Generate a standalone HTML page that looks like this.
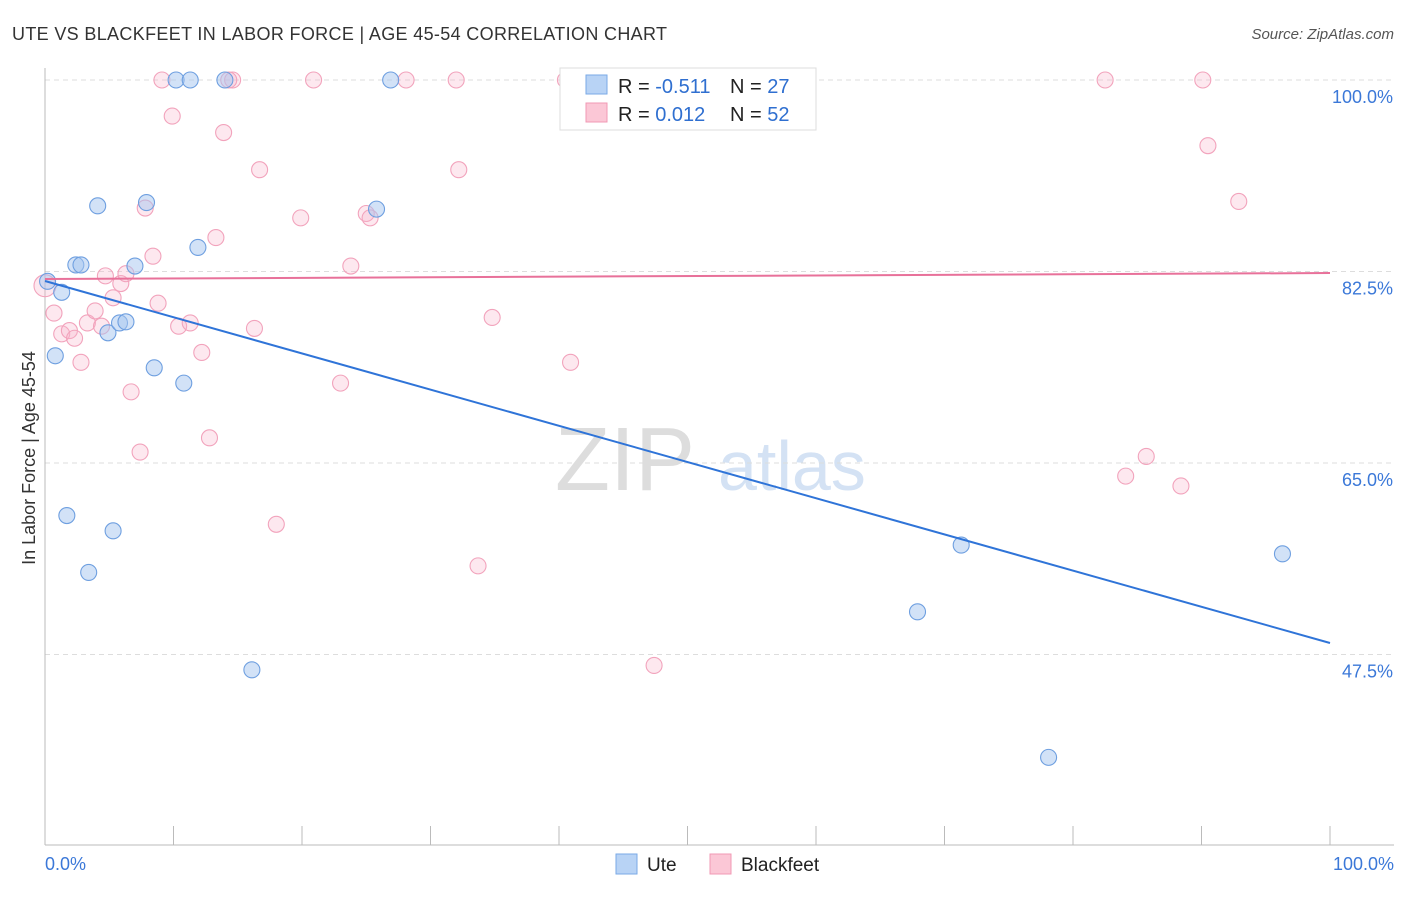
<!DOCTYPE html>
<html><head><meta charset="utf-8"><style>
body{margin:0;background:#fff;font-family:"Liberation Sans",sans-serif;}
svg text{font-family:"Liberation Sans",sans-serif;}
</style></head><body>
<svg id="chart" width="1406" height="892">
<text x="12" y="40" font-size="18" fill="#333" textLength="655">UTE VS BLACKFEET IN LABOR FORCE | AGE 45-54 CORRELATION CHART</text>
<text x="1394" y="39" font-size="15" fill="#555" text-anchor="end" font-style="italic">Source: ZipAtlas.com</text>
<text x="35" y="458" font-size="18" fill="#333" text-anchor="middle" transform="rotate(-90 35 458)">In Labor Force | Age 45-54</text>
<text x="555" y="490" font-size="90" fill="#ddd" font-family="Liberation Serif">ZIP</text>
<text x="718" y="490" font-size="70" fill="#d4e2f4">atlas</text>
<g id="grid"></g><g id="pts"></g><g id="lines"></g>
<g>
<rect x="560" y="68" width="256" height="62" fill="#fff" stroke="#ddd"/>
<rect x="586" y="75" width="21" height="19" fill="#b8d3f5" stroke="#7aaae6"/>
<rect x="586" y="103" width="21" height="19" fill="#fbc7d6" stroke="#f099b4"/>
<text x="618" y="93" font-size="20" fill="#222">R = <tspan fill="#2f6fd0">-0.511</tspan></text>
<text x="730" y="93" font-size="20" fill="#222">N = <tspan fill="#2f6fd0">27</tspan></text>
<text x="618" y="121" font-size="20" fill="#222">R = <tspan fill="#2f6fd0"> 0.012</tspan></text>
<text x="730" y="121" font-size="20" fill="#222">N = <tspan fill="#2f6fd0">52</tspan></text>
</g>
<g>
<rect x="616" y="854" width="21" height="20" fill="#b8d3f5" stroke="#7aaae6"/>
<text x="647" y="871" font-size="19" fill="#222">Ute</text>
<rect x="710" y="854" width="21" height="20" fill="#fbc7d6" stroke="#f099b4"/>
<text x="741" y="871" font-size="19" fill="#222">Blackfeet</text>
</g>
</svg>
<script>
const yTicks=[100,82.5,65,47.5];
const yTickLabels=["100.0%","82.5%","65.0%","47.5%"];
const uteX=[0.2,1.3,0.8,2.4,2.8,4.1,7.9,7.0,4.9,5.8,6.3,8.5,10.8,10.2,11.3,11.9,14.0,25.8,26.9,1.7,5.3,3.4,16.1,71.3,67.9,78.1,96.3];
const uteY=[81.6,80.6,74.8,83.1,83.1,88.5,88.8,83.0,76.9,77.8,77.9,73.7,72.3,100,100,84.7,100,88.2,100,60.2,58.8,55.0,46.1,57.5,51.4,38.1,56.7];
const bfX=[0,0.7,1.3,1.9,2.3,2.8,3.3,3.9,4.4,4.7,5.3,5.9,6.3,6.7,7.4,7.8,8.4,8.8,9.1,9.9,10.4,11.3,12.2,12.8,13.3,13.9,14.6,16.3,16.7,18.0,19.9,20.9,23.0,23.8,25.0,25.3,28.1,32.0,32.2,33.7,34.8,40.5,40.9,47.4,82.5,84.1,85.7,88.4,90.1,90.5,92.9,14.3];
const bfY=[81.2,78.7,76.8,77.1,76.4,74.2,77.8,78.9,77.5,82.1,80.1,81.4,82.3,71.5,66.0,88.3,83.9,79.6,100,96.7,77.5,77.8,75.1,67.3,85.6,95.2,100,77.3,91.8,59.4,87.4,100,72.3,83.0,87.8,87.4,100,100,91.8,55.6,78.3,100,74.2,46.5,100,63.8,65.6,62.9,100,94.0,88.9,100];
const trendXs=[0,100];
const uteTrend=[81.63,48.55];
const bfTrend=[81.81,82.36];
const X=v=>45+v*12.85, Y=v=>80+(100-v)*10.943;
const ns="http://www.w3.org/2000/svg";
function mk(t,a,p){const e=document.createElementNS(ns,t);for(const k in a)e.setAttribute(k,a[k]);p.appendChild(e);return e;}
const g=document.getElementById('grid');
yTicks.forEach((t,i)=>{
 const l=mk('line',{x1:45,x2:1394,y1:Y(t),y2:Y(t),stroke:'#ddd','stroke-dasharray':'5,4'},g);
 
 
 const tx=mk('text',{x:1393,y:Y(t)+23,'text-anchor':'end','font-size':18,fill:'#3b78d8'},g);tx.textContent=yTickLabels[i];
 
 
});
mk('line',{x1:45,x2:45,y1:68,y2:845,stroke:'#bbb'},g);
mk('line',{x1:45,x2:1394,y1:845,y2:845,stroke:'#bbb'},g);
for(let i=0;i<=10;i++){mk('line',{x1:X(i*10),x2:X(i*10),y1:826,y2:845,stroke:'#bbb'},g);}
let t1=mk('text',{x:45,y:870,'font-size':18,fill:'#3b78d8'},g);t1.textContent='0.0%';


let t2=mk('text',{x:1394,y:870,'font-size':18,fill:'#3b78d8','text-anchor':'end'},g);t2.textContent='100.0%';


const p=document.getElementById('pts');
bfX.forEach((v,i)=>{const c=mk('circle',{cx:X(v),cy:Y(bfY[i]),r:i==0?11:8,fill:'rgba(248,180,202,0.3)',stroke:'#f2a3bc','stroke-width':1.1},p);
 
 });
uteX.forEach((v,i)=>{const c=mk('circle',{cx:X(v),cy:Y(uteY[i]),r:8,fill:'rgba(165,198,240,0.5)',stroke:'#6e9fe0','stroke-width':1.1},p);
 
 });
const L=document.getElementById('lines');
const a=mk('line',{x1:X(trendXs[0]),y1:Y(uteTrend[0]),x2:X(trendXs[1]),y2:Y(uteTrend[1]),stroke:'#2f74d8','stroke-width':2},L);


const b=mk('line',{x1:X(trendXs[0]),y1:Y(bfTrend[0]),x2:X(trendXs[1]),y2:Y(bfTrend[1]),stroke:'#e8719a','stroke-width':2},L);


</script>
</body></html>
